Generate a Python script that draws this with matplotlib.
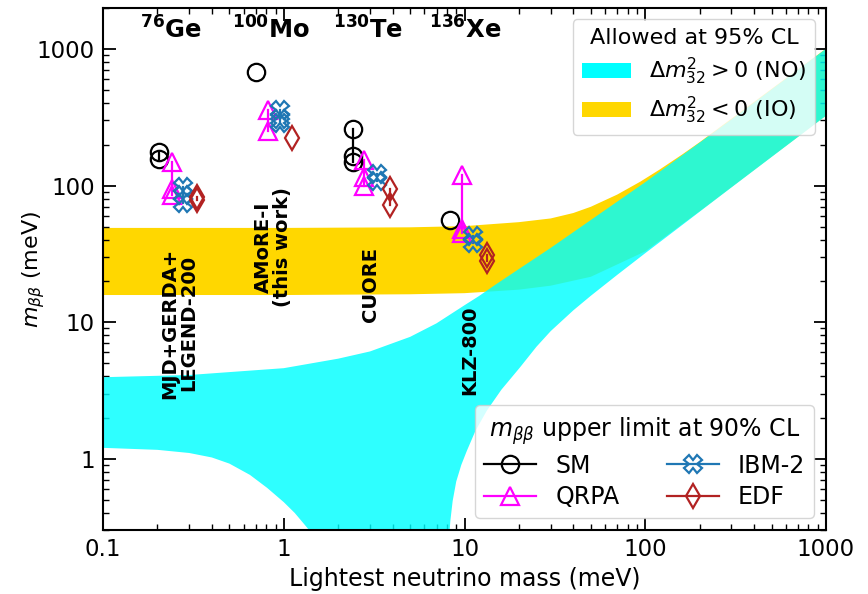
import matplotlib
matplotlib.use("Agg")
import matplotlib.pyplot as plt
import numpy as np
from matplotlib.lines import Line2D
from matplotlib.patches import Patch

# ---------------- data ----------------
# Normal ordering band (meV)
no_up_m = [0.1, 0.3, 1, 2, 3, 5, 7, 10, 12, 15, 20, 30, 50, 100, 300, 1000]
no_up_v = [3.95, 4.1, 4.6, 5.4, 6.1, 7.8, 9.8, 13.3, 15.5, 19, 24.5, 35, 56, 106, 305, 1005]
no_lo_m = [0.1, 0.2, 0.3, 0.4, 0.5, 0.65, 0.81, 1.0, 1.15, 1.3, 1.38, 1.43, 1.47, 1.5,
           8.15, 8.2, 8.35, 8.6, 9.0, 9.6, 10.3, 11.5, 13.3, 16, 20.3, 25, 30, 40, 50, 70,
           100, 300, 1000]
no_lo_v = [1.2, 1.16, 1.1, 1.02, 0.92, 0.76, 0.61, 0.48, 0.4, 0.33, 0.3, 0.27, 0.22, 0.15,
           0.15, 0.25, 0.35, 0.49, 0.68, 0.9, 1.14, 1.6, 2.25, 3.2, 4.67, 6.6, 8.6, 12.2, 15.6,
           22.2, 32, 97, 325]
# Inverted ordering band (meV)
io_up_m = [0.1, 1, 5, 10, 20, 30, 40, 50, 70, 94, 120, 160, 200, 1000]
io_up_v = [49, 49, 49.5, 50.5, 54, 57.5, 63, 70, 86, 107, 131, 169, 208, 1008]
io_lo_m = [0.1, 1, 5, 10, 20, 30, 50, 100, 200, 500, 1000]
io_lo_v = [15.8, 15.8, 16, 16.3, 17.3, 18.5, 21.5, 33, 65, 163, 326]

# Upper limits on m_bb (meV) for each isotope and NME model
iso_labels = [r"$^{\mathbf{76}}$Ge", r"$^{\mathbf{100}}$Mo", r"$^{\mathbf{130}}$Te", r"$^{\mathbf{136}}$Xe"]
iso_label_x = [0.238, 0.85, 2.92, 10.1]

sm_x = [0.204, 0.70, 2.41, 8.3]
sm_v = [[175, 158], [680], [260, 165, 148], [56]]
qrpa_x = [0.241, 0.82, 2.78, 9.7]
qrpa_v = [[148, 95, 86], [360, 250], [155, 115, 100], [120, 48, 45]]
ibm_x = [0.277, 0.95, 3.28, 11.1]
ibm_v = [[98, 85, 74], [360, 310, 290], [122, 108], [43, 38]]
edf_x = [0.331, 1.11, 3.87, 13.3]
edf_v = [[83, 79], [225], [95, 72], [31, 28]]

exp_labels = ["MJD+GERDA+\nLEGEND-200", "AMoRE-I\n(this work)", "CUORE", "KLZ-800"]
exp_x = [0.265, 0.87, 3.0, 10.7]
exp_y = [9.8, 35.5, 19.0, 6.2]

# ---------------- plot ----------------
fig = plt.figure(figsize=(8.68, 5.94), dpi=100)
ax = fig.add_axes([0.1187, 0.1077, 0.8329, 0.8788])

# IO band (gold) first, NO band (cyan) on top with slight transparency
io_x = np.concatenate([io_up_m, io_lo_m[::-1]])
io_y = np.concatenate([io_up_v, io_lo_v[::-1]])
ax.fill(io_x, io_y, color="#FFD700", lw=0, zorder=1)
no_x = np.concatenate([no_up_m, no_lo_m[::-1]])
no_y = np.concatenate([no_up_v, no_lo_v[::-1]])
ax.fill(no_x, no_y, color="#00FFFF", alpha=0.82, lw=0, zorder=2)

models = [
    (sm_x, sm_v, dict(marker="o", color="black"), "SM"),
    (qrpa_x, qrpa_v, dict(marker="^", color="#FF00FF"), "QRPA"),
    (ibm_x, ibm_v, dict(marker="X", color="#1f77b4"), "IBM-2"),
    (edf_x, edf_v, dict(marker="d", color="#B22222"), "EDF"),
]
ms = 12.5
for xs, vs, st, name in models:
    for x, vals in zip(xs, vs):
        ax.plot([x, x], [min(vals), max(vals)], "-", color=st["color"], lw=1.6, zorder=4)
        ax.plot([x] * len(vals), vals, ls="none", marker=st["marker"], mfc="none",
                mec=st["color"], ms=ms, mew=1.6, zorder=5)

for lab, x in zip(iso_labels, iso_label_x):
    ax.text(x, 1380, lab, ha="center", va="center", fontsize=17.5, fontweight="bold")

for lab, x, y in zip(exp_labels, exp_x, exp_y):
    ax.text(x, y, lab, rotation=90, ha="center", va="center", fontsize=14,
            fontweight="bold", linespacing=1.0, zorder=6)

ax.set_xscale("log")
ax.set_yscale("log")
ax.set_xlim(0.1, 1000)
ax.set_ylim(0.3, 2000)
ax.set_xticks([0.1, 1, 10, 100, 1000])
ax.set_xticklabels(["0.1", "1", "10", "100", "1000"])
ax.set_yticks([1, 10, 100, 1000])
ax.set_yticklabels(["1", "10", "100", "1000"])
ax.tick_params(which="both", direction="in", top=True, right=True, labelsize=16.5)
ax.tick_params(which="major", length=9, width=1.3, pad=6)
ax.tick_params(which="minor", length=4.5, width=1.0)
for s in ax.spines.values():
    s.set_linewidth(1.5)

ax.set_xlabel("Lightest neutrino mass (meV)", fontsize=17)
ax.set_ylabel(r"$m_{\beta\beta}$ (meV)", fontsize=16)
ax.yaxis.set_label_coords(-0.078, 0.5)

band_handles = [Patch(color="#00FFFF", lw=0), Patch(color="#FFD700", lw=0)]
leg1 = ax.legend(band_handles,
                 [r"$\Delta m^2_{32} > 0$ (NO)", r"$\Delta m^2_{32} < 0$ (IO)"],
                 title="Allowed at 95% CL", loc="upper right", fontsize=16,
                 title_fontsize=16, framealpha=0.8, handlelength=2.2, handleheight=0.7,
                 borderaxespad=0.5, labelspacing=0.35, borderpad=0.4)
ax.add_artist(leg1)

mh = []
for xs, vs, st, name in models:
    mh.append(Line2D([], [], color=st["color"], marker=st["marker"], mfc="none",
                     mec=st["color"], ms=ms, mew=1.6, lw=1.6))
names = [m[3] for m in models]
leg2 = ax.legend(mh, names,
                 title=r"$m_{\beta\beta}$ upper limit at 90% CL", loc="lower right", ncol=2,
                 fontsize=17, title_fontsize=17, framealpha=0.8, handlelength=2.2,
                 columnspacing=2.0, borderaxespad=0.5, labelspacing=0.3)

fig.savefig("out.png", dpi=100)
